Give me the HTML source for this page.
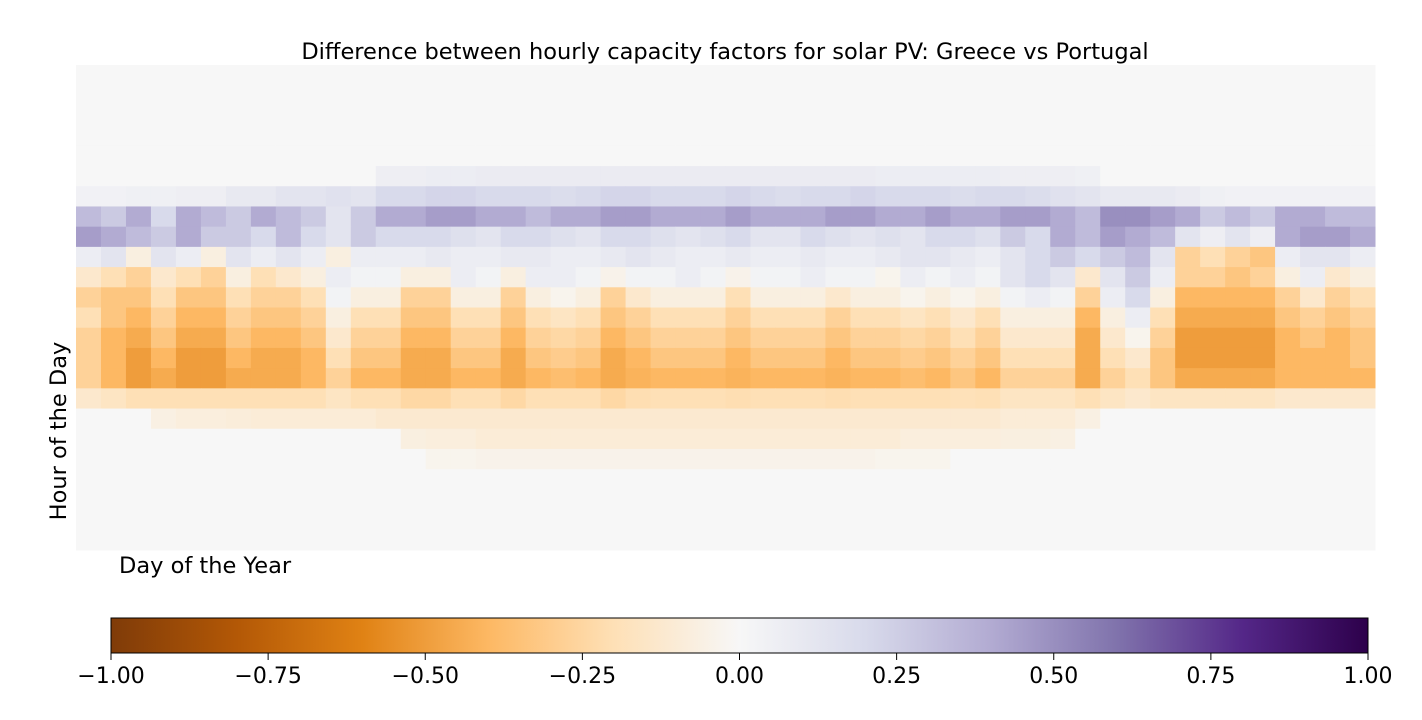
<!DOCTYPE html>
<html><head><meta charset="utf-8"><style>
body{margin:0;background:#fff;font-family:"Liberation Sans","DejaVu Sans",sans-serif}
svg text{font-family:"DejaVu Sans","Liberation Sans",sans-serif;fill:#000}
</style></head><body>
<svg id="chart" width="1422" height="715" viewBox="0 0 1422 715" xmlns="http://www.w3.org/2000/svg">
<text x="725" y="59" font-size="22.5" text-anchor="middle">Difference between hourly capacity factors for solar PV: Greece vs Portugal</text>
<g id="cells"></g>
<text x="119" y="573" font-size="22.5">Day of the Year</text>
<text transform="translate(66,431) rotate(-90)" font-size="22.5" text-anchor="middle">Hour of the Day</text>
<defs><linearGradient id="cbg" x1="0" x2="1" y1="0" y2="0"></linearGradient></defs>
<rect x="111" y="618" width="1257" height="35" fill="url(#cbg)" stroke="#000" stroke-width="1"/>
<g id="cbticks"></g>
</svg>
<script>
const hours = Array.from({length:24},(_,i)=>i);
const weeks = Array.from({length:52},(_,i)=>i+1);
const cbTicks = [-1,-0.75,-0.5,-0.25,0,0.25,0.5,0.75,1];
const cbLabels = ["\u22121.00","\u22120.75","\u22120.50","\u22120.25","0.00","0.25","0.50","0.75","1.00"];
const r5=[0,0,0,0,0,0,0,0,0,0,0,0,.06,.06,.07,.07,.08,.08,.08,.08,.08,.08,.08,.08,.08,.08,.08,.08,.08,.08,.08,.08,.07,.07,.07,.07,.07,.06,.06,.06,.05,0,0,0,0,0,0,0,0,0,0,0];
const r6=[.04,.04,.05,.05,.06,.06,.1,.1,.13,.13,.15,.13,.2,.2,.22,.22,.2,.2,.2,.18,.2,.22,.22,.2,.2,.2,.22,.2,.18,.2,.2,.22,.2,.2,.2,.18,.2,.2,.18,.15,.13,.1,.1,.1,.08,.05,.04,.04,.04,.04,.04,.04];
const r7=[.33,.27,.4,.2,.4,.33,.27,.4,.33,.27,.13,.27,.4,.4,.45,.45,.4,.4,.33,.4,.4,.45,.45,.4,.4,.4,.45,.4,.4,.4,.45,.45,.4,.4,.45,.4,.4,.45,.45,.4,.33,.5,.5,.45,.4,.27,.33,.27,.4,.4,.33,.33];
const r8=[.45,.4,.33,.27,.4,.27,.27,.2,.33,.2,.13,.27,.2,.2,.2,.16,.13,.2,.2,.16,.13,.2,.2,.16,.13,.16,.2,.13,.13,.2,.16,.13,.16,.13,.2,.2,.16,.27,.2,.4,.33,.45,.4,.33,.13,.06,.13,.06,.4,.45,.45,.4];
const r9=[.07,.13,-.07,.13,.07,-.07,.13,.07,.13,.07,-.07,.07,.07,.07,.1,.07,.07,.1,.1,.07,.07,.1,.13,.1,.07,.07,.1,.07,.07,.1,.07,.07,.1,.13,.13,.1,.07,.13,.2,.27,.2,.27,.33,.13,-.27,-.2,-.27,-.33,.07,.13,.13,.07];
const r10=[-.13,-.2,-.27,-.13,-.2,-.27,-.07,-.2,-.13,-.07,.07,.03,.03,-.07,-.07,.07,.03,-.07,.07,.07,.03,-.04,.03,.03,.07,.03,-.04,.03,.03,.07,.03,.03,-.03,.07,.03,.07,.03,.13,.2,.13,-.13,.13,.27,.07,-.27,-.27,-.33,-.27,-.07,.07,-.13,-.07];
const r11=[-.27,-.33,-.33,-.2,-.33,-.33,-.2,-.27,-.27,-.2,.03,-.07,-.07,-.27,-.27,-.07,-.07,-.27,-.07,-.03,-.07,-.27,-.13,-.07,-.07,-.07,-.2,-.07,-.07,-.07,-.13,-.07,-.07,-.03,-.07,-.03,-.07,.03,.07,.03,-.27,.07,.2,-.07,-.4,-.4,-.4,-.4,-.27,-.13,-.27,-.2];
const r12=[-.2,-.33,-.4,-.27,-.4,-.4,-.27,-.33,-.33,-.27,-.07,-.2,-.2,-.33,-.33,-.2,-.2,-.33,-.2,-.16,-.2,-.33,-.27,-.2,-.2,-.2,-.27,-.2,-.2,-.2,-.27,-.2,-.2,-.16,-.2,-.13,-.2,-.07,-.07,-.07,-.4,-.07,.07,-.2,-.45,-.45,-.45,-.45,-.33,-.27,-.33,-.27];
const r13=[-.27,-.4,-.45,-.33,-.45,-.45,-.33,-.4,-.4,-.33,-.13,-.27,-.27,-.4,-.4,-.27,-.27,-.4,-.27,-.24,-.27,-.4,-.33,-.27,-.27,-.27,-.33,-.27,-.27,-.27,-.33,-.27,-.27,-.24,-.27,-.2,-.27,-.13,-.13,-.13,-.45,-.13,-.03,-.27,-.5,-.5,-.5,-.5,-.4,-.33,-.4,-.33];
const r14=[-.27,-.4,-.5,-.4,-.5,-.5,-.4,-.45,-.45,-.4,-.2,-.33,-.33,-.45,-.45,-.33,-.33,-.45,-.33,-.3,-.33,-.45,-.4,-.33,-.33,-.33,-.4,-.33,-.33,-.33,-.4,-.33,-.33,-.3,-.33,-.27,-.33,-.2,-.2,-.2,-.45,-.2,-.13,-.33,-.5,-.5,-.5,-.5,-.4,-.4,-.4,-.33];
const r15=[-.27,-.4,-.5,-.45,-.5,-.5,-.45,-.45,-.45,-.4,-.27,-.4,-.4,-.45,-.45,-.4,-.4,-.45,-.4,-.37,-.4,-.45,-.42,-.4,-.4,-.4,-.42,-.4,-.4,-.4,-.42,-.4,-.4,-.37,-.4,-.33,-.4,-.27,-.27,-.27,-.45,-.27,-.2,-.33,-.45,-.45,-.45,-.45,-.4,-.4,-.4,-.4];
const r16=[-.13,-.16,-.2,-.2,-.2,-.2,-.2,-.2,-.2,-.2,-.16,-.2,-.2,-.24,-.24,-.2,-.2,-.24,-.2,-.2,-.2,-.24,-.21,-.2,-.2,-.2,-.21,-.2,-.2,-.2,-.21,-.2,-.2,-.2,-.2,-.19,-.2,-.16,-.16,-.16,-.2,-.16,-.13,-.16,-.16,-.16,-.16,-.16,-.13,-.13,-.13,-.13];
const r17=[0,0,0,-.06,-.08,-.08,-.09,-.1,-.1,-.1,-.1,-.1,-.12,-.12,-.12,-.12,-.12,-.12,-.12,-.12,-.12,-.12,-.12,-.12,-.12,-.12,-.12,-.12,-.12,-.12,-.12,-.12,-.12,-.12,-.12,-.12,-.12,-.1,-.1,-.1,-.06,0,0,0,0,0,0,0,0,0,0,0];
const r18=[0,0,0,0,0,0,0,0,0,0,0,0,0,-.07,-.08,-.08,-.1,-.1,-.1,-.1,-.1,-.1,-.1,-.1,-.1,-.1,-.1,-.1,-.1,-.1,-.1,-.1,-.1,-.08,-.08,-.08,-.08,-.07,-.07,-.06,0,0,0,0,0,0,0,0,0,0,0,0];
const r19=[0,0,0,0,0,0,0,0,0,0,0,0,0,0,-.03,-.03,-.04,-.04,-.04,-.04,-.04,-.04,-.04,-.04,-.04,-.04,-.04,-.04,-.04,-.04,-.04,-.04,-.03,-.03,-.03,0,0,0,0,0,0,0,0,0,0,0,0,0,0,0,0,0];
const zero=new Array(52).fill(0);
const values=[zero,zero,zero,zero,zero,r5,r6,r7,r8,r9,r10,r11,r12,r13,r14,r15,r16,r17,r18,r19,zero,zero,zero,zero];

const stops=["#7f3b08","#b35806","#e08214","#fdb863","#fee0b6","#f7f7f7","#d8daeb","#b2abd2","#8073ac","#542788","#2d004b"];
function hex(h){return [1,3,5].map(i=>parseInt(h.substr(i,2),16));}
function color(v){let t=(Math.max(-1,Math.min(1,v))+1)/2*10;let i=Math.min(9,Math.floor(t));let f=t-i;let a=hex(stops[i]),b=hex(stops[i+1]);return "rgb("+a.map((c,k)=>Math.round(c+(b[k]-c)*f)).join(",")+")";}
const X0=76,X1=1375,Y0=65,Y1=550;
const xScale=i=>X0+(X1-X0)*i/weeks.length;
const yScale=h=>Y0+(Y1-Y0)*h/hours.length;
const NS="http://www.w3.org/2000/svg";
const g=document.getElementById("cells");
hours.forEach((h,hi)=>{weeks.forEach((w,wi)=>{
  const r=document.createElementNS(NS,"rect");
  r.setAttribute("x",xScale(wi));r.setAttribute("y",yScale(hi));
  r.setAttribute("width",xScale(wi+1)-xScale(wi)+0.5);r.setAttribute("height",yScale(hi+1)-yScale(hi)+0.5);
  r.setAttribute("fill",color(values[hi][wi]));
  
  
  g.appendChild(r);
});});
const grad=document.getElementById("cbg");
stops.forEach((c,i)=>{const s=document.createElementNS(NS,"stop");s.setAttribute("offset",i/10);s.setAttribute("stop-color",c);grad.appendChild(s);});
const cb=document.getElementById("cbticks");
const cbX=v=>111+1257*(v+1)/2;
cbTicks.forEach((v,i)=>{
  const l=document.createElementNS(NS,"line");
  l.setAttribute("x1",cbX(v));l.setAttribute("x2",cbX(v));l.setAttribute("y1",653);l.setAttribute("y2",660);l.setAttribute("stroke","#000");
  
  
  cb.appendChild(l);
  const t=document.createElementNS(NS,"text");
  t.setAttribute("x",cbX(v));t.setAttribute("y",683);t.setAttribute("font-size","22");t.setAttribute("text-anchor","middle");
  t.textContent=cbLabels[i];
  
  
  cb.appendChild(t);
});
</script>
</body></html>
